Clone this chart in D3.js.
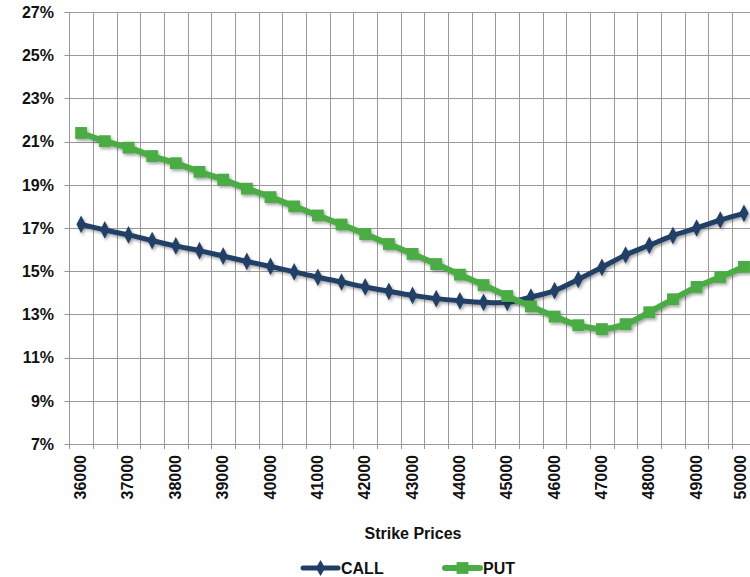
<!DOCTYPE html>
<html>
<head>
<meta charset="utf-8">
<script src="https://cdn.jsdelivr.net/npm/d3@7"></script>
<style>
  body { margin: 0; background: #fff; }
  text { font-family: "Liberation Sans", Arial, sans-serif; font-weight: bold; fill: #111; }
</style>
</head>
<body>
<div id="chart"></div>
<script>
var strikes = [36000, 36500, 37000, 37500, 38000, 38500, 39000, 39500, 40000, 40500,
               41000, 41500, 42000, 42500, 43000, 43500, 44000, 44500, 45000, 45500,
               46000, 46500, 47000, 47500, 48000, 48500, 49000, 49500, 50000];
var call_vals = [17.17, 16.91, 16.68, 16.42, 16.17, 15.95, 15.7, 15.45, 15.22, 14.97,
                 14.72, 14.5, 14.27, 14.07, 13.88, 13.73, 13.63, 13.56, 13.56, 13.8,
                 14.1, 14.62, 15.18, 15.75, 16.2, 16.65, 17.0, 17.37, 17.68];
var put_vals = [21.4, 21.02, 20.72, 20.33, 20.0, 19.6, 19.24, 18.82, 18.43, 18.0,
                17.58, 17.16, 16.72, 16.26, 15.8, 15.33, 14.84, 14.36, 13.85, 13.37,
                12.9, 12.5, 12.32, 12.55, 13.1, 13.7, 14.27, 14.73, 15.2];
var y_ticks = [7, 9, 11, 13, 15, 17, 19, 21, 23, 25, 27];
var x_labels = [36000, 37000, 38000, 39000, 40000, 41000, 42000, 43000, 44000, 45000,
                46000, 47000, 48000, 49000, 50000];

var chart_width = 750;
var chart_height = 577;
var left = 69.3, top_y = 12, bottom_y = 444, right = 755.8;
var call_color = '#213f66';
var put_color = '#4bac45';

var svg = d3.select('#chart')
      .append('svg')
      .attr('width', chart_width)
      .attr('height', chart_height);

// shadow
var defs = svg.append('defs');
defs.append('filter')
    .attr('id', 'shadow')
    .attr('x', '-10%').attr('y', '-10%')
    .attr('width', '120%').attr('height', '130%')
    .append('feDropShadow')
    .attr('dx', 1.5).attr('dy', 2)
    .attr('stdDeviation', 1.5)
    .attr('flood-color', '#000')
    .attr('flood-opacity', 0.35);

//create scales
var x_scale = d3.scaleBand()
        .domain(strikes)
        .range([left, right]);

var y_scale = d3.scaleLinear()
        .domain([7, 27])
        .range([bottom_y, top_y]);

// grid
var grid = svg.append('g');
grid.selectAll('.hgrid')
   .data(y_ticks)
   .enter()
   .append('line')
   .attr('x1', left - 5)
   .attr('x2', right)
   .attr('y1', function(d) { return Math.round(y_scale(d)) + 0.5; })
   .attr('y2', function(d) { return Math.round(y_scale(d)) + 0.5; })
   .attr('stroke', '#999')
   .attr('stroke-width', 1);

var bounds = strikes.map(function(d) { return x_scale(d); }).concat([right]);
grid.selectAll('.vgrid')
   .data(bounds)
   .enter()
   .append('line')
   .attr('x1', function(d) { return Math.round(d) + 0.5; })
   .attr('x2', function(d) { return Math.round(d) + 0.5; })
   .attr('y1', top_y)
   .attr('y2', bottom_y + 5)
   .attr('stroke', '#999')
   .attr('stroke-width', 1);

// y labels
svg.append('g')
   .selectAll('text')
   .data(y_ticks)
   .enter()
   .append('text')
   .attr('x', 54)
   .attr('y', function(d) { return y_scale(d); })
   .attr('dy', '0.36em')
   .attr('text-anchor', 'end')
   .style('font-size', '16px')
   .text(function(d) { return d + '%'; });

// x labels (last one kept inside the picture)
svg.append('g')
   .selectAll('text')
   .data(x_labels)
   .enter()
   .append('text')
   .attr('transform', function(d) {
     var cx = x_scale(d) + x_scale.bandwidth() / 2;
     var bx = Math.min(cx + 5, chart_width - 4);
     return 'translate(' + bx + ',' + 455 + ') rotate(-90)';
   })
   .attr('text-anchor', 'end')
   .style('font-size', '16px')
   .text(function(d) { return d; });

svg.append('text')
   .attr('x', 413)
   .attr('y', 539)
   .attr('text-anchor', 'middle')
   .style('font-size', '16px')
   .text('Strike Prices');

// lines
var line = d3.line()
      .x(function(d, i) { return x_scale(strikes[i]) + x_scale.bandwidth() / 2; })
      .y(function(d) { return y_scale(d); })
      .curve(d3.curveCatmullRom.alpha(0.5));

var diamond = d3.symbol().type(d3.symbolDiamond).size(75);
var square = d3.symbol().type(d3.symbolSquare).size(140);

var series = [
  { name: 'CALL', values: call_vals, color: call_color, sym: diamond, width: 5 },
  { name: 'PUT', values: put_vals, color: put_color, sym: square, width: 6 }
];

series.forEach(function(s) {
  var g = svg.append('g').attr('filter', 'url(#shadow)');
  g.append('path')
   .attr('d', line(s.values))
   .attr('fill', 'none')
   .attr('stroke', s.color)
   .attr('stroke-width', s.width)
   .attr('stroke-linejoin', 'round');
  g.selectAll('path.mark')
   .data(s.values)
   .enter()
   .append('path')
   .attr('class', 'mark')
   .attr('d', s.sym)
   .attr('transform', function(d, i) {
     var cx = x_scale(strikes[i]) + x_scale.bandwidth() / 2;
     var sc = s.name === 'CALL' ? ' scale(1,1.1)' : '';
     return 'translate(' + cx + ',' + y_scale(d) + ')' + sc;
   })
   .attr('fill', s.color);
});

// legend
var legend_x = [303, 445];
series.forEach(function(s, i) {
  var g = svg.append('g')
     .attr('transform', 'translate(' + legend_x[i] + ',568)');
  g.append('line')
   .attr('x1', 0).attr('x2', 35)
   .attr('y1', 0).attr('y2', 0)
   .attr('stroke', s.color)
   .attr('stroke-width', s.width)
   .attr('stroke-linecap', 'round');
  g.append('path')
   .attr('d', s.sym)
   .attr('transform', 'translate(17.5,0)')
   .attr('fill', s.color);
  g.append('text')
   .attr('x', 38)
   .attr('y', 0)
   .attr('dy', '0.36em')
   .style('font-size', '16px')
   .text(s.name);
});
</script>
</body>
</html>
